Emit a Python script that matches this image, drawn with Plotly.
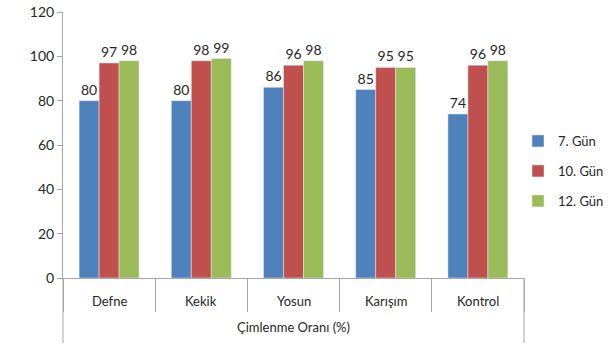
import plotly.graph_objects as go

categories = ["Defne", "Kekik", "Yosun", "Karışım", "Kontrol"]
group_label = "Çimlenme Oranı (%)"
series_names = ["7. Gün", "10. Gün", "12. Gün"]
gun7 = [80, 80, 86, 85, 74]
gun10 = [97, 98, 96, 95, 96]
gun12 = [98, 99, 98, 95, 98]
colors = ["#4F81BD", "#C0504D", "#9BBB59"]
legend_ids = ["legend", "legend2", "legend3"]
legend_y = [141, 171, 201]

H = 345
ML, MR, MT, MB = 63, 86, 12, 67
fig = go.Figure()
for i, (name, vals) in enumerate(zip(series_names, [gun7, gun10, gun12])):
    fig.add_trace(go.Bar(
        x=categories, y=vals, name=name, marker_color=colors[i],
        text=vals, textposition="outside", constraintext="none",
        textfont=dict(size=14, color="#262626"), cliponaxis=False,
        legend=legend_ids[i],
    ))

leg_common = dict(xref="container", yref="container", xanchor="left",
                  yanchor="middle", font=dict(size=13, color="#262626"),
                  itemwidth=30, bgcolor="rgba(0,0,0,0)")
layout_legends = {}
for lid, ly in zip(legend_ids, legend_y):
    layout_legends[lid] = dict(x=518 / 610, y=1 - ly / H, **leg_common)

fig.update_layout(
    width=610, height=H,
    margin=dict(l=ML, r=MR, t=MT, b=MB, autoexpand=False),
    paper_bgcolor="white", plot_bgcolor="white",
    font=dict(family="Lato, Open Sans, sans-serif", size=13, color="#262626"),
    barmode="group", bargap=0.35, bargroupgap=0,
    showlegend=True,
    **layout_legends,
)
fig.update_yaxes(range=[0, 120], dtick=20, showline=True, linecolor="#A6A6A6",
                 linewidth=1, ticks="outside", ticklen=5, tickcolor="#A6A6A6",
                 showgrid=False, zeroline=False, tickfont=dict(size=14))
fig.update_xaxes(showline=True, linecolor="#A6A6A6", linewidth=1,
                 ticks="outside", ticklen=33, tickcolor="#A6A6A6",
                 tickson="boundaries", showticklabels=False, showgrid=False)

plot_h = H - MT - MB
for c in categories:
    fig.add_annotation(x=c, xref="x", y=0, yref="paper", yanchor="middle",
                       yshift=-23, text=c, showarrow=False,
                       font=dict(size=13, color="#262626"))
fig.add_annotation(x=0.5, xref="paper", y=0, yref="paper", yanchor="middle",
                   yshift=-49, text=group_label, showarrow=False,
                   font=dict(size=13, color="#262626"))
for xp in [0, 1]:
    fig.add_shape(type="line", xref="paper", yref="paper", x0=xp, x1=xp,
                  y0=0, y1=-65 / plot_h, line=dict(color="#A6A6A6", width=1))

fig.write_html("out.html")
